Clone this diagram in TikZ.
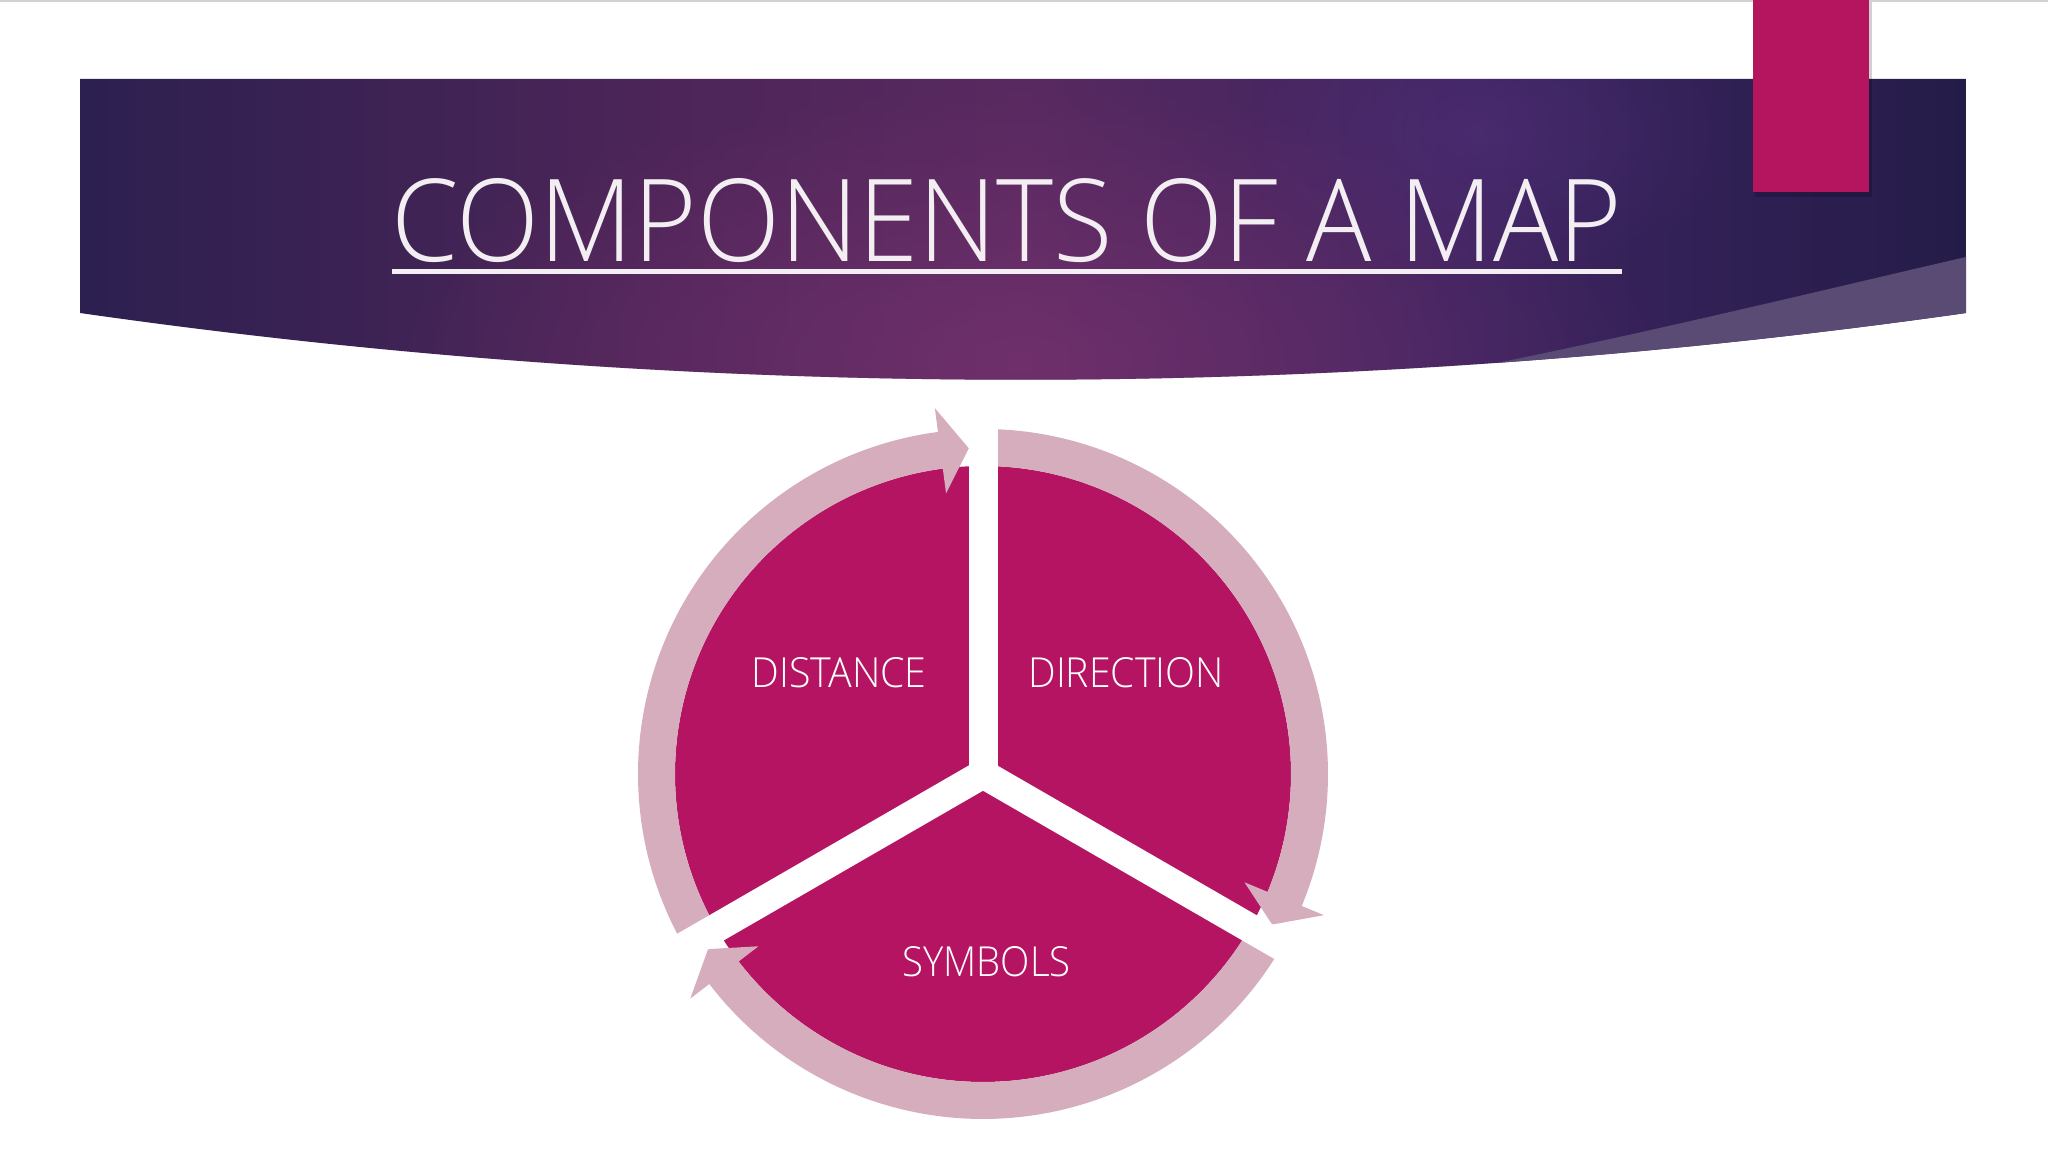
\documentclass[tikz,border=0pt]{standalone}
\usepackage{fontspec}
\setmainfont{Open Sans}
\newfontfamily\lightfont{Open Sans Light}
\usetikzlibrary{fadings}
\definecolor{bA}{HTML}{2C2050}
\definecolor{bB}{HTML}{4C2558}
\definecolor{bC}{HTML}{582960}
\definecolor{bD}{HTML}{3C2460}
\definecolor{bE}{HTML}{241C48}
\definecolor{glowc}{HTML}{7E3472}
\definecolor{glowt}{HTML}{5C3484}
\definecolor{overc}{HTML}{5A4B74}
\definecolor{magc}{HTML}{B41462}
\definecolor{ringc}{HTML}{D6ADBD}
\definecolor{rectc}{HTML}{B5155F}
\definecolor{bgc}{HTML}{FFFFFF}
\definecolor{titlec}{HTML}{F2EEF2}
\pgfdeclarehorizontalshading{bannersh}{100bp}{color(0bp)=(bA); color(25bp)=(bA); color(40bp)=(bB); color(50bp)=(bC); color(62bp)=(bD); color(75bp)=(bE); color(100bp)=(bE)}
\tikzfading[name=glowfade, inner color=transparent!0, outer color=transparent!100]
\tikzset{
  ringarrow/.style={fill=ringc},
  gapstrip/.style={draw=bgc, line width=0.29cm, line cap=butt},
  label/.style={inner sep=0pt, text=white, font=\lightfont},
}
\begin{document}
\begin{tikzpicture}[x=0.01cm,y=0.01cm]
\useasboundingbox (0,0) rectangle (2048,1152);
\fill[bgc] (0,0) rectangle (2048,1152);
\fill[gray!35] (0,1150) rectangle (2048,1152);
% banner
\begin{scope}
  \clip (80,1073) -- (1966,1073) -- (1966,839) .. controls (1340,750) and (700,750) .. (80,839) -- cycle;
  \shade[shading=bannersh] (80,700) rectangle (1966,1073);
  \fill[glowc, opacity=0.6, path fading=glowfade] (1023,790) ellipse (650 and 280);
  \fill[glowt, opacity=0.4, path fading=glowfade] (1480,1020) ellipse (260 and 160);
  \fill[overc] (1966,895) .. controls (1750,845) and (1550,795) .. (1300,752) -- (1300,700) -- (2000,700) -- (2000,895) -- cycle;
\end{scope}
% pink rectangle
\fill[black, opacity=0.18] (1755,955) rectangle (1872,1150);
\fill[rectc] (1753,960) rectangle (1869,1152);
% title
\node[inner sep=0pt, text=titlec] (title) at (1007,931.5) {\resizebox{12.30cm}{0.83cm}{\lightfont COMPONENTS OF A MAP}};
\fill[titlec] (392,877.5) rectangle (1622,882.5);
% cycle diagram
\begin{scope}[shift={(983,378)}]
  \fill[magc] (0,0) circle (308);
  \fill[ringarrow] (210:308) arc(210:97.5:308) -- (97.5:283) -- (92.5:326) -- (97.5:369) -- (97.5:345) arc(97.5:210:345) -- cycle;
  \fill[ringarrow] (90:308) arc(90:-22.5:308) -- (-22.5:283) -- (-27.5:326) -- (-22.5:369) -- (-22.5:345) arc(-22.5:90:345) -- cycle;
  \fill[ringarrow] (-30:308) arc(-30:-142.5:308) -- (-142.5:283) -- (-147.5:326) -- (-142.5:369) -- (-142.5:345) arc(-142.5:-30:345) -- cycle;
  \draw[gapstrip] (0,0) -- (90:360);
  \draw[gapstrip] (0,0) -- (210:360);
  \draw[gapstrip] (0,0) -- (330:360);
  \fill[bgc] (0,0) circle (16);
\end{scope}
\node[label] (distance) at (839,479) {\resizebox{1.75cm}{0.30cm}{DISTANCE}};
\node[label] (direction) at (1126,479) {\resizebox{1.95cm}{0.30cm}{DIRECTION}};
\node[label] (symbols) at (986.5,190) {\resizebox{1.68cm}{0.30cm}{SYMBOLS}};
\end{tikzpicture}
\end{document}
